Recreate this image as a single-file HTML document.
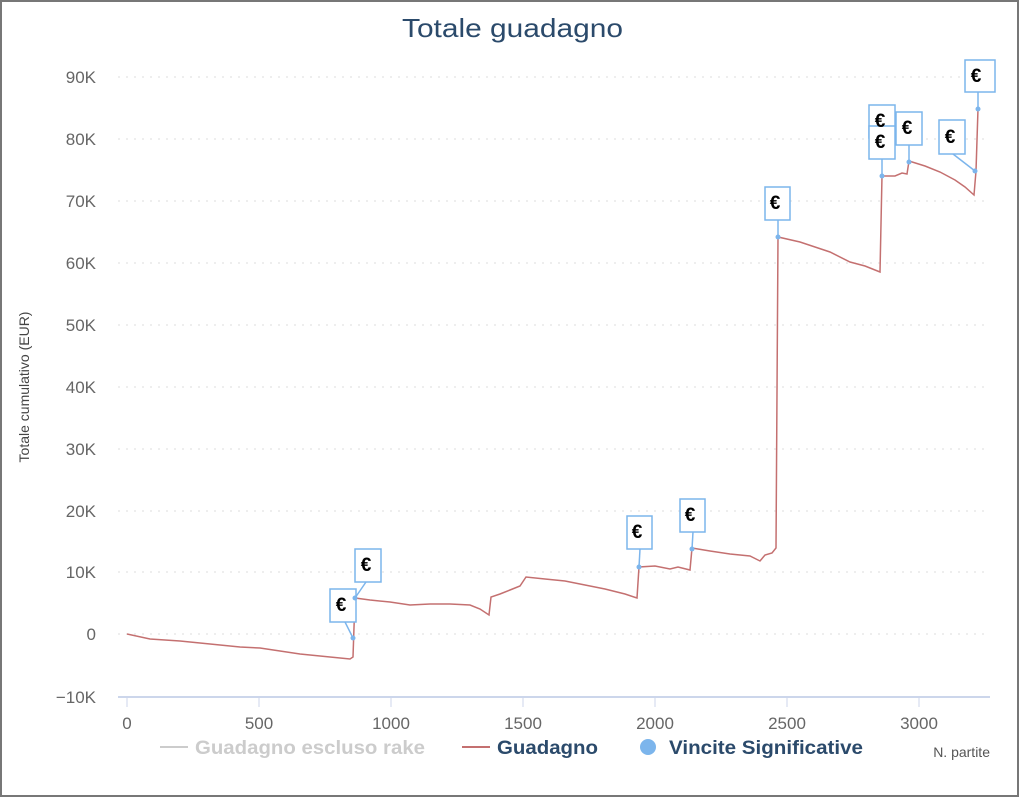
<!DOCTYPE html>
<html><head><meta charset="utf-8"><style>
html,body{margin:0;padding:0;background:#fff}
svg{display:block}
text{font-family:"Liberation Sans","DejaVu Sans",sans-serif}
</style></head><body>
<svg width="1024" height="799" viewBox="0 0 1024 799">
<rect x="1" y="1" width="1017" height="795" fill="#fff" stroke="#777" stroke-width="2"/>
<text x="402" y="37" textLength="221" lengthAdjust="spacingAndGlyphs" font-size="26" fill="#2b4a6b">Totale guadagno</text>
<g stroke="#ddd" stroke-dasharray="2,6" stroke-width="1">
<line x1="118" y1="77" x2="990" y2="77"/><line x1="118" y1="139" x2="990" y2="139"/>
<line x1="118" y1="201" x2="990" y2="201"/><line x1="118" y1="263" x2="990" y2="263"/>
<line x1="118" y1="325" x2="990" y2="325"/><line x1="118" y1="387" x2="990" y2="387"/>
<line x1="118" y1="449" x2="990" y2="449"/><line x1="118" y1="511" x2="990" y2="511"/>
<line x1="118" y1="572" x2="990" y2="572"/><line x1="118" y1="634" x2="990" y2="634"/>
</g>
<g font-size="17" fill="#666" text-anchor="end">
<text x="96" y="83">90K</text><text x="96" y="145">80K</text><text x="96" y="207">70K</text>
<text x="96" y="269">60K</text><text x="96" y="331">50K</text><text x="96" y="393">40K</text>
<text x="96" y="455">30K</text><text x="96" y="517">20K</text><text x="96" y="578">10K</text>
<text x="96" y="640">0</text><text x="96" y="703">−10K</text>
</g>
<text transform="translate(29,387) rotate(-90)" text-anchor="middle" font-size="14" fill="#444">Totale cumulativo (EUR)</text>
<line x1="118" y1="697" x2="990" y2="697" stroke="#ccd6eb" stroke-width="2"/>
<g stroke="#ccd6eb" stroke-width="1">
<line x1="127" y1="697" x2="127" y2="707"/><line x1="259" y1="697" x2="259" y2="707"/>
<line x1="391" y1="697" x2="391" y2="707"/><line x1="523" y1="697" x2="523" y2="707"/>
<line x1="655" y1="697" x2="655" y2="707"/><line x1="787" y1="697" x2="787" y2="707"/>
<line x1="919" y1="697" x2="919" y2="707"/>
</g>
<g font-size="17" fill="#666" text-anchor="middle">
<text x="127" y="729">0</text><text x="259" y="729">500</text><text x="391" y="729">1000</text>
<text x="523" y="729">1500</text><text x="655" y="729">2000</text><text x="787" y="729">2500</text>
<text x="919" y="729">3000</text>
</g>
<polyline fill="none" stroke="#c47070" stroke-width="1.5" points="127,634 150,639 180,641 210,644 240,647 260,648 280,651 300,654 320,656 330,657 350,659 353,657 355,598 370,600 390,602 410,605 430,604 450,604 470,605 480,609 489,615 491,597 500,594 510,590 520,586 526,577 545,579 565,581 585,585 605,589 625,594 637,598 639,567 655,566 670,569 678,567 690,570 692,548 710,551 730,554 750,556 760,561 765,555 772,553 776,548 778,237 800,242 815,247 830,252 850,262 865,266 880,272 882,176 895,176 902,173 907,174 909,161 925,166 940,172 955,180 965,187 974,195 976,171 978,109"/>
<g fill="none" stroke="#7cb5ec" stroke-width="1.5">
<rect x="330" y="589" width="26" height="33" fill="#fff"/><line x1="345" y1="622" x2="353" y2="638"/>
<rect x="355" y="549" width="26" height="33" fill="#fff"/><line x1="366" y1="582" x2="355" y2="598"/>
<rect x="627" y="516" width="25" height="33" fill="#fff"/><line x1="640" y1="549" x2="639" y2="567"/>
<rect x="680" y="499" width="25" height="33" fill="#fff"/><line x1="693" y1="532" x2="692" y2="549"/>
<rect x="765" y="187" width="25" height="33" fill="#fff"/><line x1="778" y1="220" x2="778" y2="237"/>
<rect x="869" y="105" width="26" height="33" fill="#fff"/>
<rect x="869" y="126" width="26" height="33" fill="#fff"/><line x1="882" y1="159" x2="882" y2="176"/>
<rect x="896" y="112" width="26" height="33" fill="#fff"/><line x1="909" y1="145" x2="909" y2="162"/>
<rect x="939" y="120" width="26" height="34" fill="#fff"/><line x1="953" y1="154" x2="975" y2="171"/>
<rect x="965" y="60" width="30" height="32" fill="#fff"/><line x1="978" y1="92" x2="978" y2="109"/>
</g>
<g fill="#7cb5ec">
<circle cx="353" cy="638" r="2.5"/><circle cx="355" cy="598" r="2.5"/><circle cx="639" cy="567" r="2.5"/>
<circle cx="692" cy="549" r="2.5"/><circle cx="778" cy="237" r="2.5"/><circle cx="882" cy="176" r="2.5"/>
<circle cx="909" cy="162" r="2.5"/><circle cx="975" cy="171" r="2.5"/><circle cx="978" cy="109" r="2.5"/>
</g>
<g font-size="19" font-weight="bold" fill="#000" text-anchor="middle">
<text x="341" y="611">€</text><text x="366" y="571">€</text><text x="637" y="538">€</text>
<text x="690" y="521">€</text><text x="775" y="209">€</text><text x="880" y="127">€</text>
<text x="880" y="148">€</text><text x="907" y="134">€</text><text x="950" y="143">€</text>
<text x="976" y="82">€</text>
</g>
<rect x="1019" y="0" width="5" height="799" fill="#fff"/>
<line x1="1018" y1="0" x2="1018" y2="797" stroke="#777" stroke-width="2"/>
<line x1="160" y1="747" x2="188" y2="747" stroke="#ccc" stroke-width="2"/>
<text x="195" y="754" textLength="230" lengthAdjust="spacingAndGlyphs" font-size="19" font-weight="bold" fill="#ccc">Guadagno escluso rake</text>
<line x1="462" y1="747" x2="490" y2="747" stroke="#c47070" stroke-width="2"/>
<text x="497" y="754" textLength="101" lengthAdjust="spacingAndGlyphs" font-size="19" font-weight="bold" fill="#2b4a6b">Guadagno</text>
<circle cx="648" cy="747" r="8" fill="#7cb5ec"/>
<text x="669" y="754" textLength="194" lengthAdjust="spacingAndGlyphs" font-size="19" font-weight="bold" fill="#2b4a6b">Vincite Significative</text>
<text x="990" y="757" font-size="14" fill="#555" text-anchor="end">N. partite</text>
</svg>
</body></html>
